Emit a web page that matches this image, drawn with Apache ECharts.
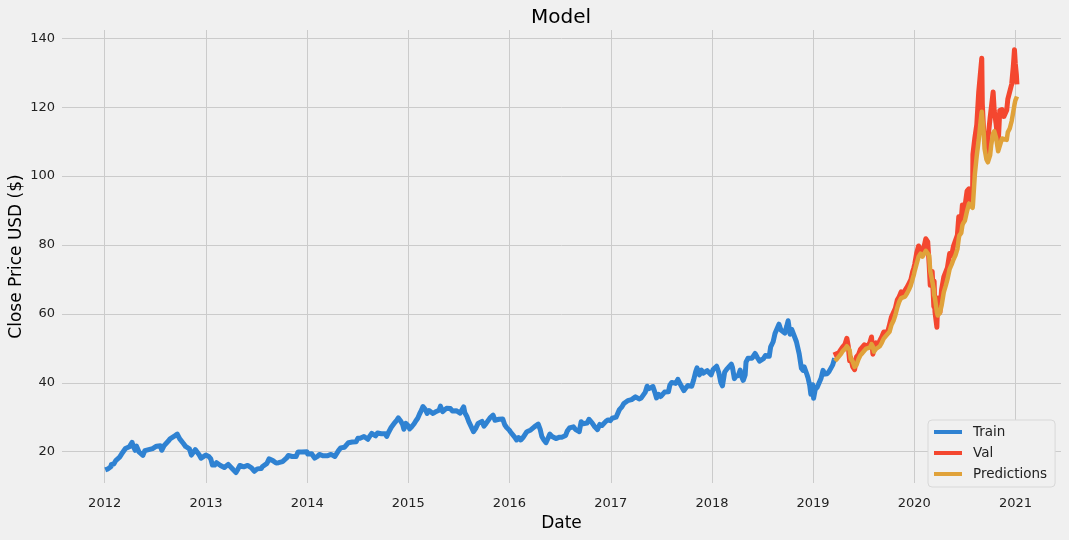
<!DOCTYPE html>
<html><head><meta charset="utf-8">
<script src="https://cdn.jsdelivr.net/npm/echarts@6/dist/echarts.min.js"></script>
<style>html,body{margin:0;padding:0;background:#f0f0f0}#c{width:1069px;height:540px}</style>
</head><body><div id="c"></div>
<script>
// ---- data ----
const trainData = [
['2012-01-03',14.7],['2012-01-13',15.0],['2012-01-24',15.7],['2012-01-25',16.3],['2012-02-03',16.4],['2012-02-10',17.4],['2012-02-17',17.8],['2012-02-24',18.4],['2012-03-02',19.3],['2012-03-09',19.3],['2012-03-16',20.9],['2012-03-23',21.4],['2012-03-30',21.4],['2012-04-09',22.7],['2012-04-13',21.6],['2012-04-20',20.4],['2012-04-25',21.6],['2012-05-04',19.9],['2012-05-11',20.2],['2012-05-18',18.9],['2012-05-25',20.3],['2012-06-01',20.0],['2012-06-08',20.6],['2012-06-15',20.4],['2012-06-22',20.9],['2012-06-29',20.9],['2012-07-06',21.6],['2012-07-13',21.3],['2012-07-20',21.7],['2012-07-25',20.4],['2012-08-03',21.8],['2012-08-10',22.0],['2012-08-17',23.0],['2012-08-24',23.7],['2012-08-31',23.7],['2012-09-07',24.4],['2012-09-14',24.6],['2012-09-19',25.1],['2012-09-28',23.7],['2012-10-05',23.4],['2012-10-12',22.3],['2012-10-19',21.5],['2012-10-26',21.6],['2012-11-02',20.8],['2012-11-09',19.0],['2012-11-15',18.8],['2012-11-23',20.6],['2012-11-30',20.9],['2012-12-07',19.1],['2012-12-14',18.1],['2012-12-21',18.6],['2012-12-31',19.0],
['2013-01-04',18.9],['2013-01-11',18.6],['2013-01-18',17.9],['2013-01-23',18.4],['2013-01-24',16.1],['2013-02-01',16.1],['2013-02-08',16.8],['2013-02-15',16.5],['2013-02-22',16.0],['2013-03-01',15.5],['2013-03-08',15.4],['2013-03-15',15.8],['2013-03-22',16.3],['2013-03-28',15.8],['2013-04-05',15.1],['2013-04-12',15.0],['2013-04-19',13.95],['2013-04-26',14.9],['2013-05-03',16.0],['2013-05-10',16.1],['2013-05-17',15.6],['2013-05-24',15.7],['2013-05-31',16.0],['2013-06-07',15.5],['2013-06-14',15.3],['2013-06-24',14.3],['2013-06-28',14.3],['2013-07-05',15.0],['2013-07-12',15.1],['2013-07-19',15.1],['2013-07-24',15.7],['2013-07-31',16.2],['2013-08-09',16.6],['2013-08-16',17.9],['2013-08-23',17.9],['2013-08-30',17.4],['2013-09-06',17.9],['2013-09-11',16.7],['2013-09-20',16.8],['2013-09-27',17.3],['2013-10-04',17.1],['2013-10-11',17.3],['2013-10-18',18.1],['2013-10-25',18.9],['2013-11-01',18.6],['2013-11-08',18.6],['2013-11-15',18.6],['2013-11-22',18.6],['2013-11-29',19.9],['2013-12-06',20.1],['2013-12-13',19.9],['2013-12-20',19.4],['2013-12-31',20.0],
['2014-01-03',19.3],['2014-01-10',19.1],['2014-01-17',19.4],['2014-01-24',19.5],['2014-01-28',18.1],['2014-02-07',18.6],['2014-02-14',19.2],['2014-02-21',18.7],['2014-02-28',18.8],['2014-03-07',18.9],['2014-03-14',18.8],['2014-03-21',19.1],['2014-03-28',19.2],['2014-04-04',19.0],['2014-04-11',18.6],['2014-04-17',18.8],['2014-04-24',20.3],['2014-05-02',21.1],['2014-05-09',20.9],['2014-05-16',21.3],['2014-05-23',21.8],['2014-05-30',22.6],['2014-06-06',23.1],['2014-06-13',22.8],['2014-06-20',22.6],['2014-06-27',22.9],['2014-07-03',23.9],['2014-07-11',23.9],['2014-07-18',23.7],['2014-07-25',24.4],['2014-08-01',24.0],['2014-08-08',23.6],['2014-08-15',24.5],['2014-08-22',25.3],['2014-08-29',25.6],['2014-09-05',24.6],['2014-09-12',25.4],['2014-09-19',25.2],['2014-09-26',25.2],['2014-10-03',24.9],['2014-10-10',25.2],['2014-10-15',24.4],['2014-10-21',25.5],['2014-10-31',27.0],['2014-11-07',27.2],['2014-11-14',28.5],['2014-11-21',29.2],['2014-11-26',29.8],['2014-12-05',28.8],['2014-12-12',27.8],['2014-12-16',26.5],['2014-12-23',28.2],['2014-12-31',27.6],
['2015-01-06',26.6],['2015-01-14',27.3],['2015-01-22',28.1],['2015-01-28',28.9],['2015-02-04',29.7],['2015-02-11',31.0],['2015-02-18',32.1],['2015-02-23',33.1],['2015-03-03',32.3],['2015-03-10',31.1],['2015-03-17',31.9],['2015-03-24',31.6],['2015-03-31',31.1],['2015-04-08',31.5],['2015-04-15',31.8],['2015-04-22',32.0],['2015-04-27',33.2],['2015-05-05',31.6],['2015-05-12',31.6],['2015-05-19',32.6],['2015-05-26',33.0],['2015-06-02',32.5],['2015-06-09',31.8],['2015-06-16',31.8],['2015-06-23',31.9],['2015-06-30',31.4],['2015-07-07',31.2],['2015-07-14',31.5],['2015-07-20',33.0],['2015-07-24',31.3],['2015-07-31',30.3],['2015-08-07',28.8],['2015-08-14',29.0],['2015-08-21',26.4],['2015-08-24',25.8],['2015-09-01',26.7],['2015-09-10',28.2],['2015-09-17',28.4],['2015-09-24',28.8],['2015-10-01',27.4],['2015-10-09',28.2],['2015-10-16',27.8],['2015-10-23',29.8],['2015-10-30',29.9],['2015-11-03',30.6],['2015-11-10',29.1],['2015-11-17',28.6],['2015-11-24',29.4],['2015-12-01',29.3],['2015-12-08',29.5],['2015-12-15',27.8],['2015-12-22',27.0],['2015-12-31',26.3],
['2016-01-05',25.7],['2016-01-12',25.2],['2016-01-20',24.2],['2016-01-27',23.4],['2016-02-03',24.1],['2016-02-11',23.4],['2016-02-19',24.1],['2016-02-26',24.2],['2016-03-04',25.8],['2016-03-11',25.6],['2016-03-18',26.3],['2016-03-24',26.4],['2016-03-31',27.2],['2016-04-07',27.3],['2016-04-14',28.0],['2016-04-21',26.5],['2016-04-27',24.4],['2016-05-05',23.3],['2016-05-12',22.6],['2016-05-19',23.8],['2016-05-26',25.1],['2016-06-03',24.4],['2016-06-10',24.6],['2016-06-17',23.8],['2016-06-24',23.3],['2016-06-30',24.2],['2016-07-08',24.2],['2016-07-15',24.7],['2016-07-22',24.7],['2016-07-27',25.0],['2016-07-28',26.0],['2016-08-05',26.9],['2016-08-12',27.1],['2016-08-19',27.2],['2016-08-26',26.5],['2016-09-02',26.3],['2016-09-09',25.8],['2016-09-16',28.7],['2016-09-23',28.1],['2016-09-30',28.3],['2016-10-07',28.3],['2016-10-14',29.4],['2016-10-21',29.0],['2016-10-26',28.3],['2016-11-04',27.2],['2016-11-11',27.0],['2016-11-14',26.4],['2016-11-22',27.9],['2016-11-30',27.6],['2016-12-07',27.8],['2016-12-14',28.8],['2016-12-22',29.2],['2016-12-30',29.0],
['2017-01-06',29.7],['2017-01-13',29.7],['2017-01-20',30.0],['2017-01-27',30.5],['2017-02-01',32.2],['2017-02-10',33.0],['2017-02-17',34.0],['2017-02-24',34.2],['2017-03-03',34.8],['2017-03-10',34.8],['2017-03-17',35.1],['2017-03-24',35.6],['2017-03-31',35.9],['2017-04-07',35.8],['2017-04-13',35.3],['2017-04-21',35.6],['2017-04-28',35.9],['2017-05-05',37.2],['2017-05-12',39.0],['2017-05-19',38.3],['2017-05-26',38.4],['2017-06-02',38.9],['2017-06-08',38.7],['2017-06-09',37.2],['2017-06-15',35.6],['2017-06-23',36.6],['2017-06-30',36.0],['2017-07-07',36.0],['2017-07-14',37.3],['2017-07-21',37.6],['2017-07-28',37.4],['2017-08-02',39.3],['2017-08-09',40.1],['2017-08-16',40.2],['2017-08-23',39.8],['2017-08-31',41.0],['2017-09-08',39.7],['2017-09-15',40.0],['2017-09-22',37.7],['2017-09-29',38.5],['2017-10-06',39.2],['2017-10-13',39.2],['2017-10-20',39.0],['2017-10-27',40.8],['2017-11-03',43.1],['2017-11-08',44.3],['2017-11-17',42.3],['2017-11-24',43.7],['2017-12-01',42.8],['2017-12-08',42.4],['2017-12-15',43.5],['2017-12-22',43.8],['2017-12-29',42.3],
['2018-01-05',43.8],['2018-01-12',44.3],['2018-01-18',44.8],['2018-01-26',42.9],['2018-02-02',40.1],['2018-02-08',39.1],['2018-02-16',43.1],['2018-02-23',43.9],['2018-03-02',44.1],['2018-03-12',45.4],['2018-03-16',44.5],['2018-03-23',41.2],['2018-03-29',41.9],['2018-04-06',42.1],['2018-04-13',43.7],['2018-04-20',41.4],['2018-04-24',40.7],['2018-05-01',42.3],['2018-05-04',46.0],['2018-05-11',47.1],['2018-05-18',46.6],['2018-05-25',47.1],['2018-06-01',47.6],['2018-06-06',48.5],['2018-06-15',47.2],['2018-06-22',46.3],['2018-06-28',46.6],['2018-07-06',47.0],['2018-07-13',47.9],['2018-07-20',47.9],['2018-07-27',47.7],['2018-08-01',50.4],['2018-08-10',51.9],['2018-08-17',54.4],['2018-08-24',54.0],['2018-08-31',57.0],['2018-09-07',55.3],['2018-09-14',55.5],['2018-09-21',54.4],['2018-09-28',56.4],['2018-10-03',58.0],['2018-10-10',54.1],['2018-10-16',55.5],['2018-10-24',53.8],['2018-10-30',53.3],['2018-11-02',51.9],['2018-11-08',52.1],['2018-11-12',48.4],['2018-11-20',44.2],['2018-11-26',43.6],['2018-11-30',44.6],['2018-12-04',44.2],['2018-12-10',42.4],['2018-12-14',41.4],['2018-12-20',39.2],['2018-12-24',36.7],['2018-12-31',39.4],
['2019-01-03',35.5],['2019-01-09',38.1],['2019-01-16',38.7],['2019-01-23',38.4],['2019-01-30',41.3],['2019-02-06',43.6],['2019-02-13',42.5],['2019-02-21',42.6],['2019-02-28',43.3],['2019-03-07',43.1],['2019-03-13',45.2],['2019-03-20',47.1]
];
const valData = [
['2019-03-21',49.0],['2019-03-29',47.5],['2019-04-05',48.8],['2019-04-12',49.7],['2019-04-18',50.4],['2019-04-26',51.1],['2019-05-03',52.9],['2019-05-08',50.7],['2019-05-13',46.4],['2019-05-17',47.3],['2019-05-24',44.7],['2019-05-31',43.8],['2019-06-03',43.3],['2019-06-07',47.5],['2019-06-14',48.2],['2019-06-21',49.7],['2019-06-28',49.5],['2019-07-05',51.0],['2019-07-12',50.8],['2019-07-19',50.6],['2019-07-26',51.9],['2019-07-31',53.3],['2019-08-05',48.3],['2019-08-09',50.2],['2019-08-16',51.6],['2019-08-23',50.7],['2019-08-30',52.2],['2019-09-06',53.3],['2019-09-13',54.7],['2019-09-20',54.4],['2019-09-27',54.7],['2019-10-04',56.8],['2019-10-11',59.1],['2019-10-18',59.1],['2019-10-25',61.6],['2019-11-01',64.0],['2019-11-08',65.0],['2019-11-15',66.4],['2019-11-22',65.4],['2019-11-29',66.8],['2019-12-06',67.7],['2019-12-13',68.8],['2019-12-20',69.9],['2019-12-27',72.4],['2019-12-31',73.4],
['2020-01-03',74.4],['2020-01-10',77.6],['2020-01-17',79.7],['2020-01-24',79.6],['2020-01-27',77.2],['2020-01-31',77.4],['2020-02-07',80.0],['2020-02-12',81.8],['2020-02-19',80.9],['2020-02-24',74.5],['2020-02-28',68.3],['2020-03-06',72.3],['2020-03-12',62.1],['2020-03-13',69.5],['2020-03-16',60.6],['2020-03-23',56.1],['2020-03-26',64.6],['2020-04-03',60.4],['2020-04-09',67.0],['2020-04-17',70.7],['2020-04-24',70.7],['2020-04-30',73.4],['2020-05-08',77.5],['2020-05-15',76.9],['2020-05-22',79.7],['2020-05-29',79.5],['2020-06-05',82.9],['2020-06-10',88.2],['2020-06-12',84.7],['2020-06-19',87.4],['2020-06-23',91.6],['2020-06-26',88.4],['2020-07-02',91.0],['2020-07-10',95.7],['2020-07-17',96.3],['2020-07-23',92.8],['2020-07-30',96.2],['2020-07-31',106.3],['2020-08-07',111.1],['2020-08-14',114.9],['2020-08-21',124.4],['2020-08-28',124.8],['2020-09-01',134.2],['2020-09-03',120.9],['2020-09-08',112.8],['2020-09-11',112.0],['2020-09-18',106.8],['2020-09-23',107.1],['2020-10-01',116.8],['2020-10-05',116.5],['2020-10-12',124.4],['2020-10-16',119.0],['2020-10-23',115.0],['2020-10-30',108.9],['2020-11-05',119.0],['2020-11-13',119.3],['2020-11-20',117.3],['2020-11-30',119.1],['2020-12-04',122.3],['2020-12-11',122.4],['2020-12-18',126.7],['2020-12-24',132.0],['2020-12-28',136.7],['2020-12-31',132.7],['2021-01-04',129.4],['2021-01-06',126.6]
];
const predData = [
['2019-03-21',46.3],['2019-03-29',47.0],['2019-04-05',47.2],['2019-04-12',48.4],['2019-04-18',49.2],['2019-04-26',49.8],['2019-05-03',50.6],['2019-05-08',51.0],['2019-05-13',49.5],['2019-05-17',47.0],['2019-05-24',46.2],['2019-05-31',44.6],['2019-06-03',44.2],['2019-06-07',45.2],['2019-06-14',46.8],['2019-06-21',48.0],['2019-06-28',48.6],['2019-07-05',49.3],['2019-07-12',49.9],['2019-07-19',50.0],['2019-07-26',50.3],['2019-07-31',51.2],['2019-08-05',50.5],['2019-08-09',49.0],['2019-08-16',49.8],['2019-08-23',50.1],['2019-08-30',50.6],['2019-09-06',51.6],['2019-09-13',52.8],['2019-09-20',53.5],['2019-09-27',53.7],['2019-10-04',54.8],['2019-10-11',56.8],['2019-10-18',57.9],['2019-10-25',59.6],['2019-11-01',61.8],['2019-11-08',63.5],['2019-11-15',64.6],['2019-11-22',64.8],['2019-11-29',65.0],['2019-12-06',65.9],['2019-12-13',67.0],['2019-12-20',68.3],['2019-12-27',70.3],['2019-12-31',71.4],
['2020-01-03',72.5],['2020-01-10',74.6],['2020-01-17',76.6],['2020-01-24',77.5],['2020-01-27',77.3],['2020-01-31',76.6],['2020-02-07',77.0],['2020-02-12',78.3],['2020-02-19',78.5],['2020-02-24',77.0],['2020-02-28',72.4],['2020-03-06',69.6],['2020-03-12',67.0],['2020-03-13',65.5],['2020-03-16',64.6],['2020-03-23',60.5],['2020-03-26',59.5],['2020-04-03',60.3],['2020-04-09',62.4],['2020-04-17',66.3],['2020-04-24',68.2],['2020-04-30',70.0],['2020-05-08',73.0],['2020-05-15',74.3],['2020-05-22',75.8],['2020-05-29',77.0],['2020-06-05',78.8],['2020-06-10',81.9],['2020-06-12',82.7],['2020-06-19',83.5],['2020-06-23',85.7],['2020-06-26',86.3],['2020-07-02',87.0],['2020-07-10',89.9],['2020-07-17',92.0],['2020-07-23',91.5],['2020-07-30',90.8],['2020-07-31',91.5],['2020-08-07',100.5],['2020-08-14',106.0],['2020-08-21',110.5],['2020-08-28',116.0],['2020-09-01',118.7],['2020-09-03',119.0],['2020-09-08',112.5],['2020-09-11',108.0],['2020-09-18',104.8],['2020-09-23',104.0],['2020-10-01',106.0],['2020-10-05',109.0],['2020-10-12',112.4],['2020-10-16',113.0],['2020-10-23',111.0],['2020-10-30',107.2],['2020-11-05',106.8],['2020-11-13',110.9],['2020-11-20',111.0],['2020-11-30',110.5],['2020-12-04',112.7],['2020-12-11',113.8],['2020-12-18',116.0],['2020-12-24',118.8],['2020-12-28',120.7],['2020-12-31',121.9],['2021-01-04',122.7],['2021-01-06',123.1]
];
const seriesNames = ['Train', 'Val', 'Predictions'];
const yTicks = [20, 40, 60, 80, 100, 120, 140];
const xTickYears = [2012, 2013, 2014, 2015, 2016, 2017, 2018, 2019, 2020, 2021];
const xLimits = ['2011-07-31', '2021-06-14'];
const yLimits = [10.9, 142.4];

// ---- drawing ----
const FONT = 'DejaVu Sans';
const COLORS = ['#2f82d2', '#f4472f', '#e0a23a'];
const WIDTHS = [5, 5, 4.5];
function ts(s) { const p = s.split('-'); return Date.UTC(+p[0], +p[1] - 1, +p[2]); }
const xTicks = xTickYears.map(y => Date.UTC(y, 0, 1));
function mk(name, rows, i, z) {
  return {
    name: name, type: 'line', z: z,
    data: rows.map(r => [ts(r[0]), r[1]]),
    showSymbol: false, symbol: 'none', color: COLORS[i],
    lineStyle: { width: WIDTHS[i], color: COLORS[i], join: 'round', cap: 'butt' },
    emphasis: { disabled: true }
  };
}
const chart = echarts.init(document.getElementById('c'), null, { renderer: 'canvas' });
chart.setOption({
  backgroundColor: '#f0f0f0',
  animation: false,
  useUTC: true,
  textStyle: { fontFamily: FONT },
  title: {
    text: 'Model', left: 561, top: 8, textAlign: 'center', padding: 0,
    textStyle: { fontFamily: FONT, fontSize: 20, fontWeight: 'normal', color: '#000' }
  },
  grid: { left: 62, right: 8, top: 30, bottom: 57, containLabel: false, outerBoundsMode: 'none' },
  legend: {
    orient: 'vertical', left: 928, top: 420,
    data: seriesNames,
    icon: 'rect', itemWidth: 28, itemHeight: 4, itemGap: 5,
    padding: [4, 8, 5, 6],
    backgroundColor: '#f0f0f0', borderColor: '#d8d8d8', borderWidth: 1, borderRadius: 4,
    textStyle: { fontFamily: FONT, fontSize: 13.5, color: '#222', lineHeight: 16, padding: [0, 0, 0, 6] }
  },
  xAxis: {
    type: 'value', min: ts(xLimits[0]), max: ts(xLimits[1]),
    name: 'Date', nameLocation: 'middle', nameGap: 32, nameMoveOverlap: false,
    nameTextStyle: { fontFamily: FONT, fontSize: 17, color: '#000' },
    axisLine: { show: false },
    axisTick: { show: false, customValues: xTicks },
    axisLabel: { customValues: xTicks, margin: 14, fontFamily: FONT, fontSize: 13, color: '#222',
      formatter: v => String(new Date(v).getUTCFullYear()) },
    splitLine: { show: true, lineStyle: { color: '#cbcbcb', width: 1 } }
  },
  yAxis: {
    type: 'value', min: yLimits[0], max: yLimits[1],
    name: 'Close Price USD ($)', nameLocation: 'middle', nameGap: 37, nameRotate: 90, nameMoveOverlap: false,
    nameTextStyle: { fontFamily: FONT, fontSize: 17, color: '#000' },
    axisLine: { show: false },
    axisTick: { show: false, customValues: yTicks },
    axisLabel: { customValues: yTicks, margin: 7, fontFamily: FONT, fontSize: 13, color: '#222' },
    splitLine: { show: true, lineStyle: { color: '#cbcbcb', width: 1 } }
  },
  series: [
    mk(seriesNames[0], trainData, 0, 2),
    mk(seriesNames[1], valData, 1, 3),
    mk(seriesNames[2], predData, 2, 4)
  ]
});
</script>
</body></html>
